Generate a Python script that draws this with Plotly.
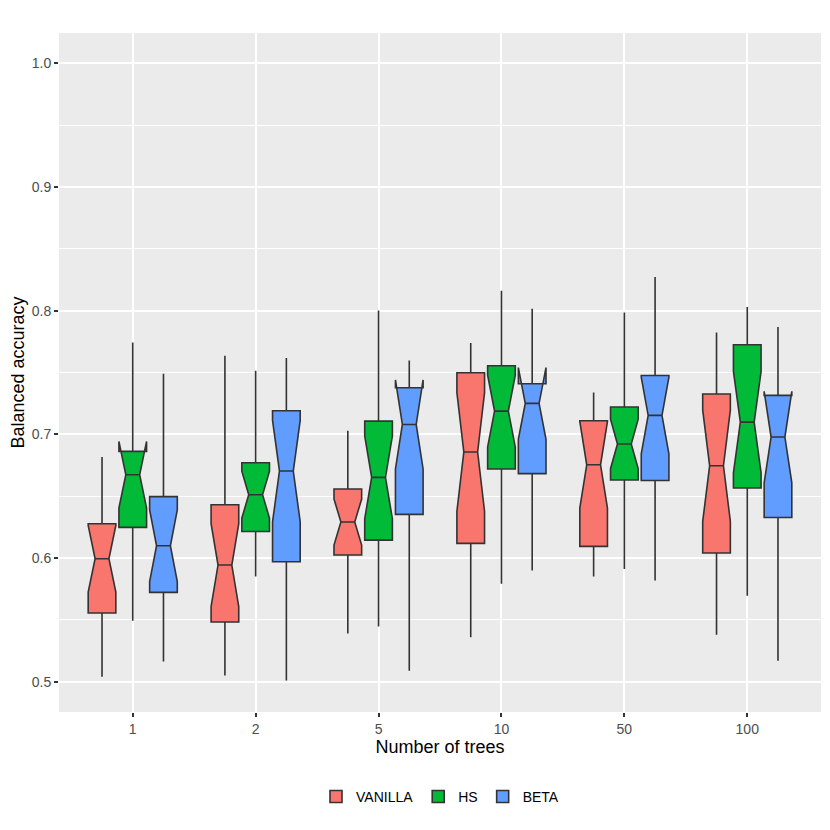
import plotly.graph_objects as go

# --- Data ---
TREES = ['1', '2', '5', '10', '50', '100']

VANILLA_LOW = [0.504, 0.505, 0.539, 0.536, 0.585, 0.538]
VANILLA_Q1 = [0.5555, 0.5483, 0.6024, 0.6118, 0.6094, 0.6040]
VANILLA_MED = [0.5994, 0.5943, 0.6291, 0.6857, 0.6754, 0.6746]
VANILLA_Q3 = [0.6277, 0.6431, 0.6558, 0.7498, 0.7110, 0.7326]
VANILLA_HIGH = [0.6816, 0.7635, 0.7029, 0.7738, 0.7339, 0.7824]
VANILLA_NOTCH = [0.027, 0.0335, 0.0186, 0.048, 0.035, 0.045]

HS_LOW = [0.5493, 0.5851, 0.5447, 0.5792, 0.5911, 0.5695]
HS_Q1 = [0.6248, 0.6215, 0.6145, 0.6720, 0.6631, 0.6566]
HS_MED = [0.6673, 0.6512, 0.6652, 0.7188, 0.6922, 0.7099]
HS_Q3 = [0.6862, 0.6770, 0.7107, 0.7555, 0.7221, 0.7724]
HS_HIGH = [0.7743, 0.7514, 0.8002, 0.8161, 0.7986, 0.8029]
HS_NOTCH = [0.027, 0.019, 0.0335, 0.029, 0.020, 0.041]

BETA_LOW = [0.5164, 0.501, 0.5089, 0.590, 0.5819, 0.517]
BETA_Q1 = [0.5722, 0.5970, 0.6353, 0.6682, 0.6627, 0.6328]
BETA_MED = [0.6099, 0.6703, 0.7080, 0.7250, 0.7153, 0.6978]
BETA_Q3 = [0.6496, 0.7191, 0.7377, 0.7409, 0.7476, 0.7315]
BETA_HIGH = [0.7490, 0.7617, 0.7598, 0.8015, 0.8272, 0.7867]
BETA_NOTCH = [0.029, 0.041, 0.036, 0.029, 0.031, 0.037]

SERIES = [
    ('VANILLA', '#F8766D', VANILLA_LOW, VANILLA_Q1, VANILLA_MED, VANILLA_Q3, VANILLA_HIGH, VANILLA_NOTCH),
    ('HS', '#00BA38', HS_LOW, HS_Q1, HS_MED, HS_Q3, HS_HIGH, HS_NOTCH),
    ('BETA', '#619CFF', BETA_LOW, BETA_Q1, BETA_MED, BETA_Q3, BETA_HIGH, BETA_NOTCH),
]

FONT = 'Liberation Sans, Arial, sans-serif'

fig = go.Figure()
for name, color, low, q1, med, q3, high, notch in SERIES:
    fig.add_trace(go.Box(
        name=name,
        x=TREES,
        lowerfence=low,
        q1=q1,
        median=med,
        q3=q3,
        upperfence=high,
        notchspan=notch,
        notched=True,
        notchwidth=0.25,
        whiskerwidth=0,
        fillcolor=color,
        line=dict(color='#333333', width=1.6),
        boxpoints=False,
    ))

# the page body has an 8px margin, so the figure is a bit smaller than the window
fig.update_layout(
    width=822,
    height=822,
    boxmode='group',
    boxgap=0.25,
    boxgroupgap=0.1,
    paper_bgcolor='white',
    plot_bgcolor='#EBEBEB',
    margin=dict(l=51, r=9, t=25, b=118),
    font=dict(family=FONT, size=14, color='black'),
    showlegend=True,
    legend=dict(
        orientation='h',
        x=0.5, xanchor='center',
        y=-0.125, yanchor='middle',
        font=dict(size=14, color='black'),
        bgcolor='rgba(0,0,0,0)',
    ),
    xaxis=dict(
        type='category',
        range=[-0.6, 5.6],
        showgrid=True,
        gridcolor='white',
        gridwidth=1.8,
        zeroline=False,
        showline=False,
        ticks='outside',
        ticklen=4,
        tickwidth=1.5,
        tickcolor='#333333',
        tickfont=dict(size=14, color='#4D4D4D'),
        title=dict(text='Number of trees', font=dict(size=18, color='black'), standoff=3),
    ),
    yaxis=dict(
        range=[0.4755, 1.0245],
        tick0=0.5,
        dtick=0.1,
        tickformat='.1f',
        showgrid=True,
        gridcolor='white',
        gridwidth=1.8,
        zeroline=False,
        showline=False,
        ticks='outside',
        ticklen=4,
        tickwidth=1.5,
        tickcolor='#333333',
        tickfont=dict(size=14, color='#4D4D4D'),
        minor=dict(dtick=0.05, tick0=0.45, showgrid=True, gridcolor='white', gridwidth=0.9, ticks=''),
        title=dict(text='Balanced accuracy', font=dict(size=18, color='black'), standoff=2),
    ),
)

fig.write_html('out.html')
